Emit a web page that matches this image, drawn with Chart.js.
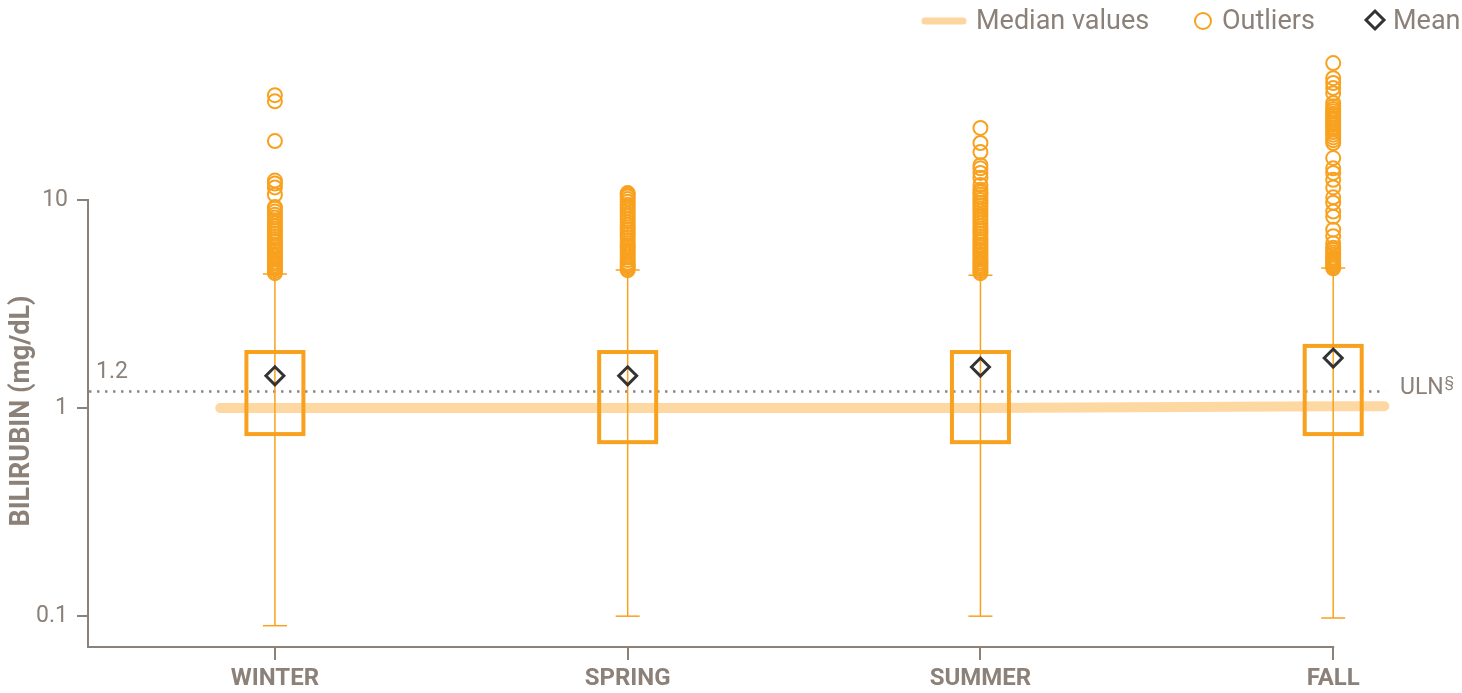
<!DOCTYPE html>
<html lang="en">
<head>
<meta charset="UTF-8">
<title>Bilirubin by season</title>
<script src="https://cdn.jsdelivr.net/npm/chart.js"></script>
<style>
  html, body { margin: 0; padding: 0; background: #fff; }
  .wrap { position: relative; width: 1462px; height: 693px; }
</style>
</head>
<body>
<div class="wrap"><canvas id="chart"></canvas></div>
<script>
  // data
  const seasons = ['WINTER', 'SPRING', 'SUMMER', 'FALL'];
  const whiskerLow = [0.090, 0.100, 0.100, 0.098];
  const boxLow = [0.75, 0.686, 0.686, 0.75];
  const medians = [1.0, 1.0, 1.0, 1.02];
  const boxHigh = [1.86, 1.86, 1.86, 1.99];
  const whiskerHigh = [4.41, 4.61, 4.35, 4.71];
  const means = [1.43, 1.43, 1.575, 1.74];

  const outliersWinter = [4.45, 4.55, 4.65, 4.75, 4.85, 4.95, 5.05, 5.2, 5.35, 5.5, 5.65, 5.8, 5.95, 6.1,
    6.3, 6.5, 6.7, 6.9, 7.1, 7.3, 7.5, 7.75, 8.0, 8.25, 8.5, 8.8, 9.1, 9.25, 10.6, 11.5, 12.0, 12.4,
    19.2, 29.8, 31.9];
  const outliersSpring = [4.6, 4.7, 4.8, 4.9, 5.0, 5.15, 5.3, 5.45, 5.6, 5.75, 5.9, 6.05, 6.2, 6.4, 6.6,
    6.8, 7.0, 7.2, 7.4, 7.6, 7.85, 8.1, 8.35, 8.6, 8.9, 9.2, 9.5, 9.8, 10.1, 10.4, 10.6, 10.8];
  const outliersSummer = [4.45, 4.55, 4.65, 4.75, 4.85, 4.95, 5.05, 5.2, 5.35, 5.5, 5.65, 5.8, 5.95, 6.1,
    6.3, 6.5, 6.7, 6.9, 7.1, 7.3, 7.5, 7.75, 8.0, 8.25, 8.5, 8.8, 9.1, 9.4, 9.7, 10.0, 10.3, 10.6, 10.9,
    11.2, 11.8, 12.8, 13.5, 14.2, 14.7, 17.0, 18.8, 22.2];
  const outliersFall = [4.7, 4.8, 4.9, 5.0, 5.1, 5.2, 5.3, 5.45, 5.6, 5.75, 5.9, 6.2, 6.7, 7.2, 8.3, 8.8,
    9.7, 10.3, 11.5, 12.5, 13.5, 14.2, 15.9, 18.8, 19.4, 20.0, 20.6, 21.2, 21.8, 22.4, 23.0, 23.6, 24.2,
    24.8, 25.4, 26.0, 26.7, 27.4, 28.2, 29.3, 32.6, 34.5, 36.5, 38.5, 45.5];
  const outliers = [outliersWinter, outliersSpring, outliersSummer, outliersFall];

  const uln = 1.2;
  const yTicks = [0.1, 1, 10];
  // the median band runs a little past the first and last box
  const medianLineStart = -0.155;
  const medianLineEnd = 3.145;

  const GREY = '#8c8179';
  const ORANGE = '#f8a11e';
  const X_MIN = -0.527, X_MAX = 3.161;

  Chart.defaults.font.family = 'Roboto, "DejaVu Sans", sans-serif';

  const medianPoints = [{x: medianLineStart, y: medians[0]}]
    .concat(medians.map((m, i) => ({x: i, y: m})))
    .concat([{x: medianLineEnd, y: medians[medians.length - 1]}]);

  const outlierPoints = [];
  outliers.forEach((list, i) => list.forEach(v => outlierPoints.push({x: i, y: v})));

  const boxPlugin = {
    id: 'boxes',
    afterDatasetDraw(chart, args) {
      if (args.index !== 1) return; // after the median band
      const {ctx, scales: {x, y}} = chart;
      ctx.save();
      ctx.strokeStyle = ORANGE;
      seasons.forEach((s, i) => {
        const cx = x.getPixelForValue(i);
        ctx.lineWidth = 1.5;
        ctx.beginPath();
        ctx.moveTo(cx, y.getPixelForValue(whiskerLow[i]));
        ctx.lineTo(cx, y.getPixelForValue(whiskerHigh[i]));
        ctx.stroke();
        [whiskerLow[i], whiskerHigh[i]].forEach(v => {
          const py = y.getPixelForValue(v);
          ctx.beginPath();
          ctx.moveTo(cx - 12, py);
          ctx.lineTo(cx + 12, py);
          ctx.stroke();
        });
        const top = y.getPixelForValue(boxHigh[i]);
        const bot = y.getPixelForValue(boxLow[i]);
        ctx.lineWidth = 4;
        ctx.strokeRect(cx - 28.5, top, 57, bot - top);
      });
      ctx.restore();
    }
  };

  const decorPlugin = {
    id: 'decor',
    beforeDatasetsDraw(chart) {
      const {ctx, chartArea, scales: {x, y}} = chart;
      ctx.save();
      ctx.strokeStyle = GREY;
      ctx.lineWidth = 2;
      ctx.beginPath();
      ctx.moveTo(chartArea.left - 1, y.getPixelForValue(yTicks[yTicks.length - 1]) - 1);
      ctx.lineTo(chartArea.left - 1, chartArea.bottom);
      ctx.lineTo(x.getPixelForValue(seasons.length - 1) + 1, chartArea.bottom);
      ctx.stroke();

      const uy = y.getPixelForValue(uln);
      ctx.fillStyle = GREY;
      ctx.font = '23px Roboto';
      ctx.textBaseline = 'middle';
      ctx.textAlign = 'left';
      ctx.fillText(String(uln), 96, uy - 19);
      ctx.fillText('ULN', 1400, uy - 3);
      const w = ctx.measureText('ULN').width;
      ctx.font = '15px Roboto';
      ctx.fillText('§', 1400 + w + 1, uy - 8);
      ctx.restore();
    },
    afterDraw(chart) {
      const {ctx} = chart;
      ctx.save();
      // y title
      ctx.fillStyle = GREY;
      ctx.font = 'bold 27px Roboto';
      ctx.textAlign = 'center';
      ctx.textBaseline = 'middle';
      ctx.translate(22, 411);
      ctx.rotate(-Math.PI / 2);
      ctx.fillText('BILIRUBIN (mg/dL)', 0, 0);
      ctx.restore();

      // legend
      ctx.save();
      ctx.font = '27px Roboto';
      ctx.textBaseline = 'middle';
      ctx.textAlign = 'left';
      ctx.fillStyle = GREY;
      ctx.strokeStyle = '#fdd59f';
      ctx.lineWidth = 7;
      ctx.lineCap = 'round';
      ctx.beginPath();
      ctx.moveTo(925, 21);
      ctx.lineTo(963, 21);
      ctx.stroke();
      ctx.fillText('Median values', 976, 22);

      ctx.strokeStyle = ORANGE;
      ctx.lineWidth = 2;
      ctx.beginPath();
      ctx.arc(1203, 21, 8, 0, Math.PI * 2);
      ctx.stroke();
      ctx.fillText('Outliers', 1222, 22);

      ctx.strokeStyle = '#333';
      ctx.lineWidth = 3;
      ctx.lineCap = 'butt';
      ctx.beginPath();
      ctx.moveTo(1366, 20);
      ctx.lineTo(1375, 11);
      ctx.lineTo(1384, 20);
      ctx.lineTo(1375, 29);
      ctx.closePath();
      ctx.stroke();
      ctx.fillText('Mean', 1393, 22);
      ctx.restore();
    }
  };

  const ctx = document.getElementById('chart').getContext('2d');
  new Chart(ctx, {
    type: 'scatter',
    data: {
      datasets: [{
        type: 'line',
        label: 'ULN',
        data: [{x: X_MIN, y: uln}, {x: 3.147, y: uln}],
        borderColor: '#8a8a8a',
        borderWidth: 2.5,
        borderDash: [2.5, 5.5],
        pointRadius: 0,
        order: 5
      }, {
        type: 'line',
        label: 'Median values',
        data: medianPoints,
        borderColor: '#fed8a2',
        borderWidth: 10,
        borderCapStyle: 'round',
        borderJoinStyle: 'round',
        pointRadius: 0,
        order: 4
      }, {
        label: 'Outliers',
        data: outlierPoints,
        pointStyle: 'circle',
        radius: 7,
        borderWidth: 2,
        borderColor: ORANGE,
        backgroundColor: 'rgba(0,0,0,0)',
        order: 2
      }, {
        label: 'Mean',
        data: means.map((m, i) => ({x: i, y: m})),
        pointStyle: 'rectRot',
        radius: 9,
        borderWidth: 3,
        borderColor: '#333333',
        backgroundColor: 'rgba(0,0,0,0)',
        order: 1
      }]
    },
    options: {
      responsive: true,
      maintainAspectRatio: false,
      animation: false,
      layout: { padding: { top: 50, right: 72, left: 0, bottom: 0 } },
      plugins: { legend: { display: false }, tooltip: { enabled: false } },
      scales: {
        x: {
          type: 'linear',
          min: X_MIN,
          max: X_MAX,
          afterBuildTicks: s => { s.ticks = seasons.map((_, i) => ({value: i})); },
          afterFit: s => { s.height = 46; },
          grid: { drawOnChartArea: false, color: GREY, lineWidth: 2, tickLength: 13 },
          border: { display: false },
          ticks: {
            callback: v => seasons[v],
            color: GREY,
            font: { size: 24, weight: 'bold' },
            padding: 5,
            maxRotation: 0,
            autoSkip: false
          }
        },
        y: {
          type: 'logarithmic',
          min: 0.0711,
          max: 52.6,
          afterBuildTicks: s => { s.ticks = yTicks.map(v => ({value: v})); },
          afterFit: s => { s.width = 89; },
          grid: { drawOnChartArea: false, color: GREY, lineWidth: 2, tickLength: 12 },
          border: { display: false },
          ticks: { callback: v => String(v), color: GREY, font: { size: 23 }, padding: 9 }
        }
      }
    },
    plugins: [boxPlugin, decorPlugin]
  });
</script>
</body>
</html>
